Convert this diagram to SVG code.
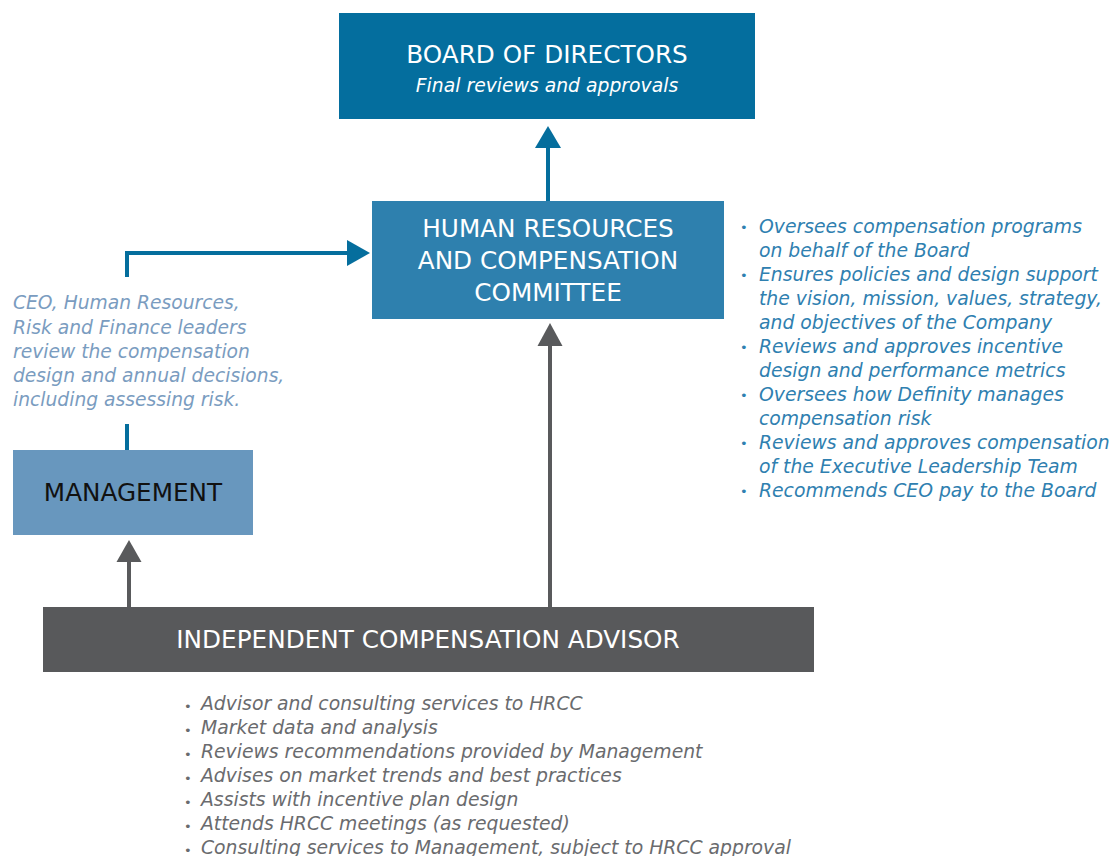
<svg xmlns="http://www.w3.org/2000/svg" width="1115" height="856" viewBox="0 0 1115 856">
<defs>
<style>
.t{font-family:"DejaVu Sans","Liberation Sans",sans-serif;}
.hd{font-size:24.7px;fill:#ffffff;text-anchor:middle;}
.it{font-style:italic;}
.rb{font-size:18.8px;fill:#2f80b0;font-style:italic;}
.lb{font-size:18.7px;fill:#7a9cc0;font-style:italic;}
.bb{font-size:18.8px;fill:#6a6b6e;font-style:italic;}
.dot{font-size:13px;font-style:normal;}
.blue{stroke:#056e9d;stroke-width:4;fill:none;}
.gray{stroke:#595a5c;stroke-width:4;fill:none;}
</style>
</defs>
<rect width="1115" height="856" fill="#ffffff"/>
<g id="connectors">
<line class="blue" x1="548" y1="201" x2="548" y2="145"/>
<polygon points="548,126 535,148 561,148" fill="#056e9d"/>
<polyline class="blue" points="127,277 127,253 349,253"/>
<polygon points="370,253 347,240 347,266" fill="#056e9d"/>
<line class="blue" x1="127" y1="424" x2="127" y2="450"/>
<line class="gray" x1="129" y1="607" x2="129" y2="559"/>
<polygon points="129,540 116.5,562 141.5,562" fill="#595a5c"/>
<line class="gray" x1="550" y1="607" x2="550" y2="343"/>
<polygon points="550,323 537.5,346 562.5,346" fill="#595a5c"/>
</g>
<g id="board">
<rect x="339" y="13" width="416" height="106" fill="#046e9e"/>
<text class="t hd" x="547" y="63">BOARD OF DIRECTORS</text>
<text class="t hd it" x="547" y="92" style="font-size:18.8px">Final reviews and approvals</text>
</g>
<g id="hrcc">
<rect x="372" y="201" width="352" height="118" fill="#2e80ae"/>
<text class="t hd" x="548" y="237">HUMAN RESOURCES</text>
<text class="t hd" x="548" y="269">AND COMPENSATION</text>
<text class="t hd" x="548" y="301">COMMITTEE</text>
</g>
<g id="hrcc-notes" class="t rb">
<text class="dot" x="740" y="232">•</text>
<text x="759" y="233">Oversees compensation programs</text>
<text x="759" y="257">on behalf of the Board</text>
<text class="dot" x="740" y="280">•</text>
<text x="759" y="281">Ensures policies and design support</text>
<text x="759" y="305">the vision, mission, values, strategy,</text>
<text x="759" y="329">and objectives of the Company</text>
<text class="dot" x="740" y="352">•</text>
<text x="759" y="353">Reviews and approves incentive</text>
<text x="759" y="377">design and performance metrics</text>
<text class="dot" x="740" y="400">•</text>
<text x="759" y="401">Oversees how Definity manages</text>
<text x="759" y="425">compensation risk</text>
<text class="dot" x="740" y="448">•</text>
<text x="759" y="449">Reviews and approves compensation</text>
<text x="759" y="473">of the Executive Leadership Team</text>
<text class="dot" x="740" y="496">•</text>
<text x="759" y="497">Recommends CEO pay to the Board</text>
</g>
<g id="management-notes" class="t lb">
<text x="13" y="309">CEO, Human Resources,</text>
<text x="13" y="334">Risk and Finance leaders</text>
<text x="13" y="358">review the compensation</text>
<text x="13" y="382">design and annual decisions,</text>
<text x="13" y="406">including assessing risk.</text>
</g>
<g id="management">
<rect x="13" y="450" width="240" height="85" fill="#6897be"/>
<text class="t" x="133" y="501" font-size="24.7" fill="#111111" text-anchor="middle">MANAGEMENT</text>
</g>
<g id="advisor">
<rect x="43" y="607" width="771" height="65" fill="#58595b"/>
<text class="t hd" x="428" y="648">INDEPENDENT COMPENSATION ADVISOR</text>
</g>
<g id="advisor-notes" class="t bb">
<text class="dot" x="184" y="711">•</text>
<text x="201" y="710">Advisor and consulting services to HRCC</text>
<text class="dot" x="184" y="735">•</text>
<text x="201" y="734">Market data and analysis</text>
<text class="dot" x="184" y="759">•</text>
<text x="201" y="758">Reviews recommendations provided by Management</text>
<text class="dot" x="184" y="783">•</text>
<text x="201" y="782">Advises on market trends and best practices</text>
<text class="dot" x="184" y="807">•</text>
<text x="201" y="806">Assists with incentive plan design</text>
<text class="dot" x="184" y="831">•</text>
<text x="201" y="830">Attends HRCC meetings (as requested)</text>
<text class="dot" x="184" y="855">•</text>
<text x="201" y="854">Consulting services to Management, subject to HRCC approval</text>
</g>
</svg>
